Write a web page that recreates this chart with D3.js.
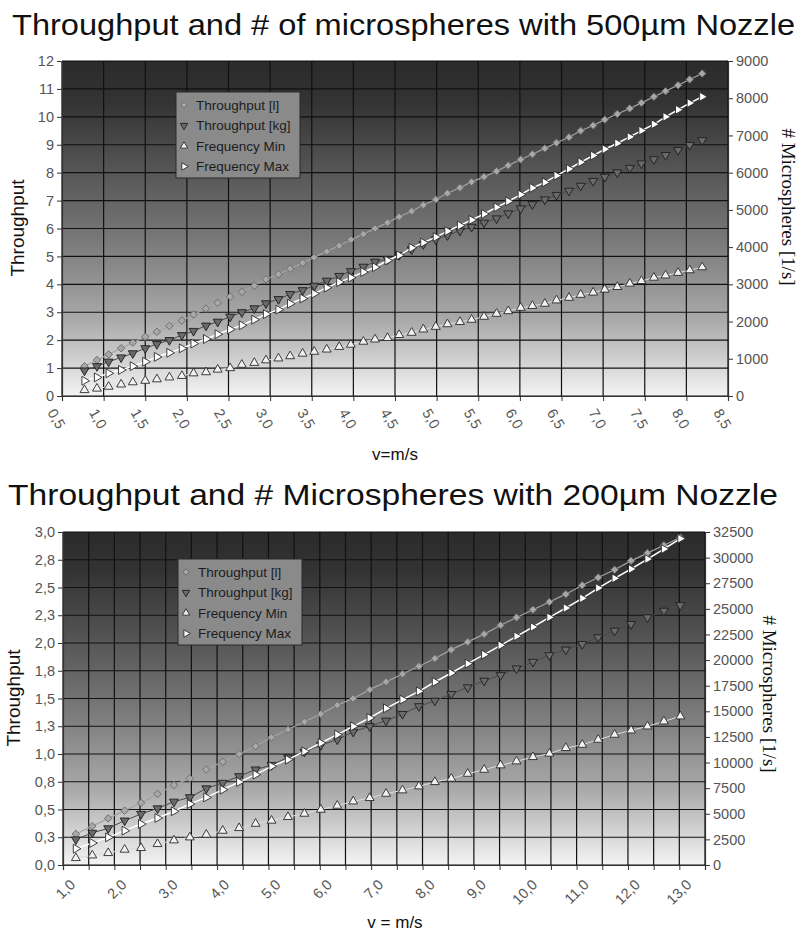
<!DOCTYPE html>
<html>
<head>
<meta charset="utf-8">
<script src="https://cdn.jsdelivr.net/npm/d3@7"></script>
<style>
  body { margin: 0; background: #fff; }
  svg { display: block; font-family: "Liberation Sans", Arial, sans-serif; }
</style>
</head>
<body>
<svg id="chart" width="803" height="934"></svg>
<script>
const seriesNames = ["Throughput [l]", "Throughput [kg]", "Frequency Min", "Frequency Max"];

// 500µm nozzle
const topX = [0.77, 0.92, 1.06, 1.21, 1.35, 1.50, 1.64, 1.79, 1.94, 2.08, 2.23, 2.37, 2.52, 2.66, 2.81, 2.95,
  3.10, 3.24, 3.39, 3.53, 3.68, 3.83, 3.97, 4.12, 4.26, 4.41, 4.55, 4.70, 4.84, 4.99, 5.13, 5.28, 5.42,
  5.57, 5.72, 5.86, 6.01, 6.15, 6.30, 6.44, 6.59, 6.73, 6.88, 7.02, 7.17, 7.32, 7.46, 7.61, 7.75, 7.90, 8.04, 8.19];
const topThroughputL = [1.07, 1.29, 1.49, 1.71, 1.91, 2.12, 2.30, 2.51, 2.70, 2.92, 3.13, 3.34, 3.56, 3.73, 3.95, 4.18,
  4.36, 4.56, 4.77, 4.96, 5.18, 5.38, 5.60, 5.80, 6.00, 6.21, 6.42, 6.62, 6.84, 7.04, 7.26, 7.46, 7.67,
  7.85, 8.05, 8.26, 8.47, 8.66, 8.87, 9.07, 9.27, 9.50, 9.69, 9.90, 10.10, 10.30, 10.50, 10.72, 10.92, 11.13, 11.34, 11.55];
const topThroughputKg = [0.91, 1.07, 1.23, 1.38, 1.53, 1.71, 1.86, 2.00, 2.18, 2.33, 2.52, 2.66, 2.84, 3.00, 3.14, 3.32,
  3.47, 3.65, 3.79, 3.95, 4.13, 4.30, 4.47, 4.63, 4.81, 4.90, 5.05, 5.25, 5.44, 5.61, 5.76, 5.92, 6.06,
  6.21, 6.36, 6.54, 6.72, 6.87, 7.04, 7.20, 7.35, 7.53, 7.70, 7.85, 8.01, 8.17, 8.33, 8.48, 8.63, 8.81, 8.99, 9.16];
const topFreqMin = [160, 200, 250, 310, 370, 410, 450, 500, 540, 610, 640, 710, 750, 840, 890, 960,
  1010, 1070, 1140, 1190, 1250, 1320, 1380, 1460, 1520, 1560, 1640, 1700, 1790, 1860, 1930, 1990, 2050,
  2130, 2210, 2280, 2370, 2420, 2480, 2570, 2640, 2720, 2780, 2860, 2930, 3020, 3090, 3180, 3240, 3310, 3380, 3460];
const topFreqMax = [410, 500, 610, 700, 800, 920, 1050, 1160, 1280, 1410, 1530, 1660, 1790, 1900, 2050, 2200,
  2320, 2480, 2620, 2750, 2910, 3060, 3180, 3330, 3460, 3640, 3780, 3980, 4120, 4270, 4430, 4580, 4730,
  4890, 5070, 5230, 5410, 5590, 5740, 5920, 6100, 6280, 6460, 6630, 6790, 6960, 7130, 7300, 7500, 7690, 7870, 8040];
const topXTicks = [0.5, 1, 1.5, 2, 2.5, 3, 3.5, 4, 4.5, 5, 5.5, 6, 6.5, 7, 7.5, 8, 8.5];
const topLeftTicks = [0, 1, 2, 3, 4, 5, 6, 7, 8, 9, 10, 11, 12];
const topRightTicks = [0, 1000, 2000, 3000, 4000, 5000, 6000, 7000, 8000, 9000];

// 200µm nozzle
const bottomX = [1.25, 1.57, 1.88, 2.20, 2.52, 2.84, 3.16, 3.47, 3.79, 4.11, 4.43, 4.75, 5.06, 5.38, 5.70, 6.02,
  6.34, 6.65, 6.97, 7.29, 7.61, 7.93, 8.24, 8.56, 8.88, 9.20, 9.52, 9.83, 10.15, 10.47, 10.79, 11.11,
  11.42, 11.74, 12.06, 12.38, 12.70, 13.02];
const bottomThroughputL = [0.28, 0.35, 0.42, 0.49, 0.56, 0.64, 0.72, 0.78, 0.86, 0.93, 1.00, 1.07, 1.15, 1.22, 1.29, 1.36,
  1.44, 1.50, 1.58, 1.65, 1.72, 1.79, 1.86, 1.94, 2.01, 2.08, 2.16, 2.23, 2.30, 2.37, 2.44, 2.52,
  2.59, 2.66, 2.74, 2.81, 2.88, 2.95];
const bottomThroughputKg = [0.23, 0.29, 0.33, 0.40, 0.46, 0.51, 0.57, 0.61, 0.69, 0.74, 0.80, 0.86, 0.90, 0.97, 1.02, 1.08,
  1.13, 1.20, 1.25, 1.30, 1.36, 1.43, 1.48, 1.54, 1.60, 1.66, 1.71, 1.77, 1.83, 1.89, 1.94, 1.99,
  2.05, 2.11, 2.17, 2.23, 2.29, 2.34];
const bottomFreqMin = [680, 940, 1170, 1500, 1660, 2050, 2410, 2700, 2960, 3350, 3610, 4030, 4330, 4690, 5010, 5400,
  5790, 6210, 6540, 6960, 7290, 7680, 8100, 8430, 8910, 9300, 9730, 10120, 10540, 10870, 11420, 11740,
  12230, 12720, 13140, 13530, 14020, 14510];
const bottomFreqMax = [1590, 2150, 2700, 3350, 4000, 4590, 5240, 5950, 6600, 7350, 8100, 8820, 9630, 10280, 11090, 11910,
  12720, 13530, 14350, 15290, 16140, 16950, 17860, 18740, 19650, 20530, 21440, 22320, 23230, 24170, 25080, 26030,
  27030, 27980, 28890, 29860, 30840, 31850];
const bottomXTicks = [1, 1.5, 2, 2.5, 3, 3.5, 4, 4.5, 5, 5.5, 6, 6.5, 7, 7.5, 8, 8.5, 9, 9.5, 10, 10.5,
  11, 11.5, 12, 12.5, 13, 13.5];
const bottomLeftTicks = [0, 0.25, 0.5, 0.75, 1, 1.25, 1.5, 1.75, 2, 2.25, 2.5, 2.75, 3];
const bottomRightTicks = [0, 2500, 5000, 7500, 10000, 12500, 15000, 17500, 20000, 22500, 25000, 27500, 30000, 32500];

// marker + line look of the four series (diamond = square turned 45°)
const styles = [
  { sym: d3.symbolSquare, rot: 45, size: 28, fill: "#a8a8a8", stroke: "#6a6a6a", line: "#a4a4a4", lw: 1.2, axis: "left" },
  { sym: d3.symbolTriangle, rot: 180, size: 34, fill: "#6a6a6a", stroke: "#1e1e1e", line: "#4a4a4a", lw: 1, axis: "left" },
  { sym: d3.symbolTriangle, rot: 0, size: 34, fill: "#f2f2f2", stroke: "#2a2a2a", line: "#dcdcdc", lw: 1, axis: "right" },
  { sym: d3.symbolTriangle, rot: 90, size: 34, fill: "#ffffff", stroke: "#2a2a2a", line: "#ffffff", lw: 1.5, axis: "right" }
];

const comma = d => d3.format(".1f")(d).replace(".", ",");

const svg = d3.select("#chart");
const defs = svg.append("defs");
const grad = defs.append("linearGradient").attr("id", "bg")
  .attr("x1", 0).attr("y1", 0).attr("x2", 0).attr("y2", 1);
[[0, "#2b2b2b"], [0.12, "#333333"], [0.5, "#727272"], [0.78, "#ababab"], [1, "#f4f4f4"]]
  .forEach(s => grad.append("stop").attr("offset", s[0]).attr("stop-color", s[1]));

function drawChart(cfg) {
  const g = svg.append("g");
  const x = d3.scaleLinear().domain(cfg.xDomain).range([cfg.left, cfg.right]);
  const yL = d3.scaleLinear().domain(cfg.leftDomain).range([cfg.bottom, cfg.top]);
  const yR = d3.scaleLinear().domain(cfg.rightDomain).range([cfg.bottom, cfg.top]);

  g.append("text")
    .attr("x", cfg.titleX).attr("y", cfg.titleY)
    .attr("textLength", cfg.titleLen).attr("lengthAdjust", "spacingAndGlyphs")
    .style("font-size", "30px").style("fill", "#111")
    .text(cfg.title);

  g.append("rect")
    .attr("x", cfg.left).attr("y", cfg.top)
    .attr("width", cfg.right - cfg.left).attr("height", cfg.bottom - cfg.top)
    .attr("fill", "url(#bg)");

  // grid
  g.append("g").selectAll("line").data(cfg.xTicks).join("line")
    .attr("x1", d => x(d)).attr("x2", d => x(d))
    .attr("y1", cfg.top).attr("y2", cfg.bottom)
    .attr("stroke", "#111").attr("stroke-width", 1.2);
  g.append("g").selectAll("line").data(cfg.leftTicks).join("line")
    .attr("x1", cfg.left).attr("x2", cfg.right)
    .attr("y1", d => yL(d)).attr("y2", d => yL(d))
    .attr("stroke", "#111").attr("stroke-width", 1.2);

  // series
  cfg.series.forEach((vals, i) => {
    const st = styles[i];
    const y = st.axis === "left" ? yL : yR;
    const pts = cfg.xs.map((v, k) => [x(v), y(vals[k])]);
    g.append("path")
      .attr("d", d3.line()(pts))
      .attr("fill", "none").attr("stroke", st.line).attr("stroke-width", st.lw);
    g.append("g").selectAll("path").data(pts).join("path")
      .attr("d", d3.symbol().type(st.sym).size(st.size))
      .attr("transform", d => `translate(${d[0]},${d[1]}) rotate(${st.rot})`)
      .attr("fill", st.fill).attr("stroke", st.stroke).attr("stroke-width", 0.9);
  });

  // legend
  const lg = g.append("g").attr("transform", `translate(${cfg.legendX},${cfg.legendY})`);
  lg.append("rect").attr("width", 124).attr("height", 86)
    .attr("fill", "#8a8a8a").attr("stroke", "#2a2a2a").attr("stroke-width", 1);
  seriesNames.forEach((name, i) => {
    const st = styles[i];
    const row = 13 + i * 20.5;
    lg.append("path")
      .attr("d", d3.symbol().type(st.sym).size(st.size * 0.7))
      .attr("transform", `translate(8,${row}) rotate(${st.rot})`)
      .attr("fill", st.fill).attr("stroke", st.stroke).attr("stroke-width", 0.9);
    lg.append("text").attr("x", 20).attr("y", row + 4.5)
      .style("font-size", "13.5px").style("fill", "#1c1c1c")
      .text(name);
  });

  // axes
  const axL = g.append("g").attr("transform", `translate(${cfg.left},0)`)
    .call(d3.axisLeft(yL).tickValues(cfg.leftTicks).tickFormat(cfg.leftFormat).tickSize(5).tickPadding(3));
  const axR = g.append("g").attr("transform", `translate(${cfg.right},0)`)
    .call(d3.axisRight(yR).tickValues(cfg.rightTicks).tickFormat(d3.format("d")).tickSize(5).tickPadding(3));
  const axX = g.append("g").attr("transform", `translate(0,${cfg.bottom})`)
    .call(d3.axisBottom(x).tickValues(cfg.xTicks).tickFormat(cfg.xFormat).tickSize(5));
  [axL, axR, axX].forEach(a => {
    a.select(".domain").attr("stroke", "#333").attr("stroke-width", 1.2);
    a.selectAll(".tick line").attr("stroke", "#333");
    a.selectAll("text").style("font-size", "14.5px").style("fill", "#555").style("font-family", null);
  });
  axX.selectAll(".tick text")
    .attr("x", 0).attr("y", 0).attr("dy", "0.35em")
    .attr("text-anchor", cfg.xAnchor)
    .attr("transform", cfg.xLabelTransform);

  // axis titles
  g.append("text")
    .attr("transform", `translate(${cfg.leftTitleX},${cfg.leftTitleY}) rotate(-90)`)
    .attr("text-anchor", "middle")
    .style("font-size", "19px").style("fill", "#111")
    .text("Throughput");
  g.append("text")
    .attr("transform", `translate(${cfg.rightTitleX},${cfg.rightTitleY}) rotate(90)`)
    .attr("text-anchor", "middle")
    .style("font-size", "19px").style("fill", "#111")
    .style("font-family", "'Liberation Serif', 'Times New Roman', serif")
    .text("# Microspheres [1/s]");
  g.append("text")
    .attr("x", cfg.xTitleX).attr("y", cfg.xTitleY)
    .attr("text-anchor", "middle")
    .style("font-size", "17px").style("fill", "#111")
    .text(cfg.xTitle);
}

drawChart({
  title: "Throughput and # of microspheres with 500µm Nozzle",
  titleX: 12, titleY: 35, titleLen: 783,
  left: 62, right: 728, top: 61, bottom: 396,
  xDomain: [0.5, 8.5], leftDomain: [0, 12], rightDomain: [0, 9000],
  xTicks: topXTicks, leftTicks: topLeftTicks, rightTicks: topRightTicks,
  leftFormat: d3.format("d"), xFormat: comma,
  xAnchor: "start", xLabelTransform: "translate(-11,14) rotate(60)",
  xs: topX, series: [topThroughputL, topThroughputKg, topFreqMin, topFreqMax],
  legendX: 176, legendY: 92,
  leftTitleX: 24, leftTitleY: 228,
  rightTitleX: 782, rightTitleY: 207,
  xTitle: "v=m/s", xTitleX: 395, xTitleY: 460
});

drawChart({
  title: "Throughput and # Microspheres with 200µm Nozzle",
  titleX: 8, titleY: 505, titleLen: 770,
  left: 63, right: 705, top: 532, bottom: 865,
  xDomain: [1, 13.5], leftDomain: [0, 3], rightDomain: [0, 32500],
  xTicks: bottomXTicks, leftTicks: bottomLeftTicks, rightTicks: bottomRightTicks,
  leftFormat: comma, xFormat: d => Number.isInteger(d) ? comma(d) : "",
  xAnchor: "end", xLabelTransform: "translate(9,17) rotate(-45)",
  xs: bottomX, series: [bottomThroughputL, bottomThroughputKg, bottomFreqMin, bottomFreqMax],
  legendX: 178, legendY: 559,
  leftTitleX: 20, leftTitleY: 698,
  rightTitleX: 763, rightTitleY: 694,
  xTitle: "v = m/s", xTitleX: 395, xTitleY: 928
});
</script>
</body>
</html>
